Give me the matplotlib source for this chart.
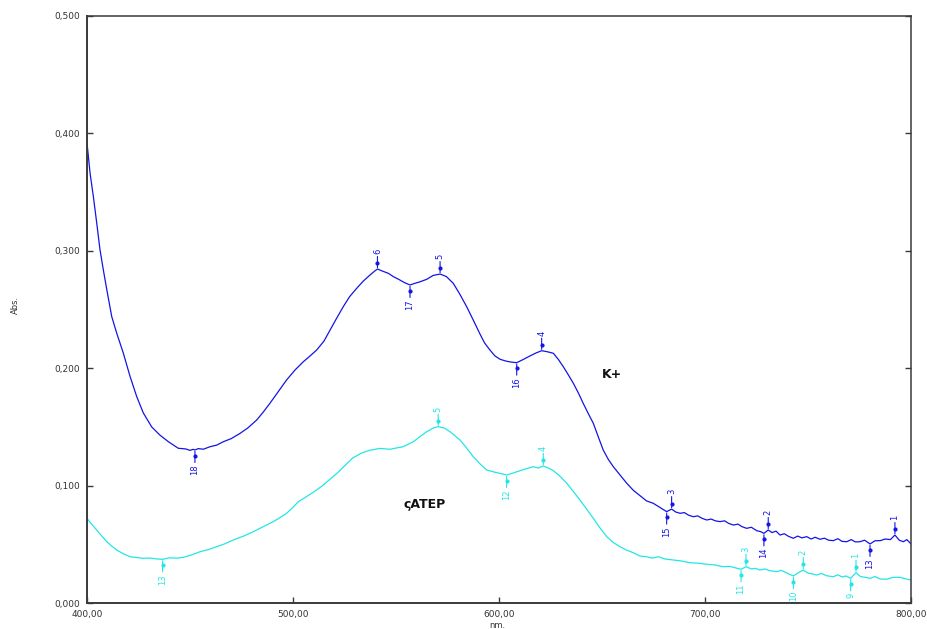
import matplotlib
matplotlib.use("Agg")
import matplotlib.pyplot as plt
from matplotlib.ticker import FuncFormatter, MultipleLocator
from matplotlib.transforms import offset_copy

# --- K+ spectrum (wavelength nm, absorbance) ---
kplus_nm = [400.0, 401.5, 403.1, 404.7, 406.3, 407.9, 409.6, 412.0, 414.4, 417.6,
            420.9, 424.1, 427.3, 431.4, 435.4, 439.5, 444.3, 448.0, 450.0, 451.6,
            452.4, 454.0, 456.5, 459.7, 463.0, 466.2, 470.0, 474.3, 478.0, 482.4,
            485.5, 488.8, 492.8, 496.9, 501.0, 505.0, 508.0, 511.5, 515.0, 518.0,
            521.0, 524.4, 527.5, 530.9, 534.0, 537.4, 539.5, 541.0, 543.0, 546.3,
            548.7, 551.5, 554.0, 556.8, 559.0, 561.5, 564.9, 568.0, 571.4, 574.5,
            577.8, 581.0, 584.3, 587.5, 590.8, 593.0, 595.6, 598.0, 600.5, 603.5,
            606.0, 608.6, 611.5, 615.0, 618.0, 620.7, 623.5, 626.4, 628.8, 631.2,
            633.6, 636.1, 638.5, 640.9, 643.3, 645.8, 648.2, 650.6, 653.0, 655.5,
            658.8, 662.0, 665.2, 668.4, 671.6, 674.9, 678.0, 681.4, 683.8, 685.8,
            687.9, 690.0, 692.0, 694.3, 696.5, 698.5, 700.8, 703.0, 705.0, 707.3,
            709.5, 711.5, 713.8, 716.0, 718.0, 720.2, 722.5, 725.1, 727.0, 728.6,
            730.7, 732.5, 734.5, 736.4, 738.5, 740.5, 742.9, 745.0, 747.0, 749.4,
            751.5, 753.5, 755.8, 758.0, 760.0, 762.3, 764.5, 766.5, 768.8, 771.0,
            773.0, 775.2, 777.5, 780.1, 782.5, 785.0, 787.5, 790.0, 792.2, 794.3,
            796.3, 798.0, 800.0]
kplus_abs = [0.392, 0.366, 0.346, 0.324, 0.301, 0.284, 0.267, 0.244, 0.230, 0.213,
             0.193, 0.176, 0.162, 0.150, 0.143, 0.1374, 0.1318, 0.1312, 0.1300, 0.1309,
             0.1303, 0.1315, 0.1310, 0.1331, 0.1345, 0.1374, 0.1400, 0.1445, 0.1490, 0.1559,
             0.1625, 0.1701, 0.1800, 0.1900, 0.1985, 0.2055, 0.2100, 0.2155, 0.2230, 0.2325,
             0.2420, 0.2524, 0.2610, 0.2680, 0.2740, 0.2794, 0.2825, 0.2845, 0.2830, 0.2808,
             0.2780, 0.2755, 0.2730, 0.2709, 0.2722, 0.2735, 0.2757, 0.2790, 0.2802, 0.2780,
             0.2723, 0.2630, 0.2524, 0.2410, 0.2290, 0.2215, 0.2155, 0.2105, 0.2076, 0.2060,
             0.2052, 0.2047, 0.2072, 0.2104, 0.2130, 0.2149, 0.2140, 0.2127, 0.2075, 0.2013,
             0.1945, 0.1871, 0.1790, 0.1700, 0.1615, 0.1530, 0.1415, 0.1303, 0.1225, 0.1161,
             0.1090, 0.1020, 0.0960, 0.0915, 0.0870, 0.0849, 0.0815, 0.0778, 0.0800, 0.0775,
             0.0764, 0.0770, 0.0748, 0.0735, 0.0742, 0.0722, 0.0707, 0.0715, 0.0700, 0.0693,
             0.0700, 0.0678, 0.0664, 0.0672, 0.0650, 0.0636, 0.0645, 0.0616, 0.0608, 0.0593,
             0.0622, 0.0600, 0.0612, 0.0579, 0.0590, 0.0568, 0.0551, 0.0570, 0.0555, 0.0565,
             0.0545, 0.0560, 0.0543, 0.0552, 0.0535, 0.0531, 0.0548, 0.0525, 0.0522, 0.0540,
             0.0520, 0.0522, 0.0535, 0.0503, 0.0530, 0.0531, 0.0545, 0.0540, 0.0579, 0.0535,
             0.0522, 0.0540, 0.0503]

# --- ςATEP spectrum ---
catep_nm = [400.0, 402.3, 404.7, 407.2, 409.6, 412.0, 414.4, 417.6, 420.9, 424.0,
            427.3, 430.5, 433.5, 436.7, 440.0, 443.5, 446.8, 450.8, 454.9, 459.0,
            463.0, 467.0, 471.0, 476.0, 480.7, 485.5, 490.4, 493.5, 496.9, 500.0,
            502.6, 506.0, 510.0, 514.0, 518.0, 522.0, 526.0, 529.0, 533.0, 537.0,
            542.2, 547.1, 550.0, 553.5, 558.4, 561.5, 564.9, 568.0, 570.5, 573.5,
            576.2, 581.1, 584.3, 587.5, 590.8, 594.0, 598.9, 601.5, 603.7, 606.5,
            610.2, 613.5, 616.7, 619.0, 621.5, 624.0, 626.4, 629.6, 632.9, 636.1,
            639.3, 642.5, 645.8, 649.0, 652.3, 655.5, 658.7, 662.0, 665.2, 668.4,
            671.7, 674.5, 677.4, 680.5, 684.6, 688.5, 692.7, 696.5, 700.8, 704.5,
            708.9, 712.0, 715.0, 717.5, 719.9, 722.5, 724.5, 726.7, 729.0, 731.5,
            734.8, 737.0, 739.5, 741.0, 742.9, 745.5, 747.7, 750.0, 752.0, 754.2,
            756.5, 759.0, 762.3, 764.5, 766.5, 768.5, 770.7, 773.3, 775.5, 778.0,
            780.1, 782.5, 785.0, 788.2, 791.0, 794.7, 797.5, 800.0]
catep_abs = [0.0721, 0.0670, 0.0622, 0.0570, 0.0522, 0.0485, 0.0451, 0.0420, 0.0394, 0.0388,
             0.0380, 0.0383, 0.0376, 0.0372, 0.0385, 0.0382, 0.0389, 0.0410, 0.0437, 0.0455,
             0.0480, 0.0505, 0.0537, 0.0570, 0.0607, 0.0650, 0.0693, 0.0725, 0.0764, 0.0815,
             0.0863, 0.0900, 0.0945, 0.0995, 0.1055, 0.1115, 0.1185, 0.1235, 0.1275, 0.1300,
             0.1317, 0.1309, 0.1320, 0.1331, 0.1374, 0.1415, 0.1459, 0.1490, 0.1502, 0.1490,
             0.1459, 0.1388, 0.1320, 0.1246, 0.1185, 0.1133, 0.1110, 0.1100, 0.1090, 0.1105,
             0.1127, 0.1145, 0.1161, 0.1150, 0.1167, 0.1150, 0.1127, 0.1080, 0.1020, 0.0950,
             0.0877, 0.0800, 0.0721, 0.0640, 0.0565, 0.0515, 0.0480, 0.0450, 0.0428, 0.0400,
             0.0394, 0.0382, 0.0394, 0.0375, 0.0366, 0.0358, 0.0343, 0.0340, 0.0330, 0.0325,
             0.0309, 0.0312, 0.0298, 0.0287, 0.0309, 0.0290, 0.0295, 0.0281, 0.0290, 0.0275,
             0.0267, 0.0278, 0.0258, 0.0245, 0.0230, 0.0260, 0.0281, 0.0255, 0.0248, 0.0238,
             0.0252, 0.0232, 0.0224, 0.0240, 0.0222, 0.0230, 0.0210, 0.0258, 0.0225, 0.0218,
             0.0210, 0.0225, 0.0205, 0.0202, 0.0218, 0.0219, 0.0205, 0.0196]

# --- picked peaks (maxima) and valleys (minima) ---
kplus_max_nm = [792.2, 730.7, 683.8, 620.7, 571.4, 541.0]
kplus_max_abs = [0.0579, 0.0622, 0.0800, 0.2149, 0.2802, 0.2845]
kplus_max_ids = ["1", "2", "3", "4", "5", "6"]
kplus_min_nm = [780.1, 728.6, 681.4, 608.6, 556.8, 452.4]
kplus_min_abs = [0.0503, 0.0593, 0.0778, 0.2047, 0.2709, 0.1303]
kplus_min_ids = ["13", "14", "15", "16", "17", "18"]

catep_max_nm = [773.3, 747.7, 719.9, 621.5, 570.5]
catep_max_abs = [0.0258, 0.0281, 0.0309, 0.1167, 0.1502]
catep_max_ids = ["1", "2", "3", "4", "5"]
catep_min_nm = [770.7, 742.9, 717.5, 603.7, 436.7]
catep_min_abs = [0.0210, 0.0230, 0.0287, 0.1090, 0.0372]
catep_min_ids = ["9", "10", "11", "12", "13"]

BLUE = "#1414e6"
CYAN = "#22e6e6"
AXIS = "#3a3a3a"

fig = plt.figure(figsize=(9.27, 6.29), dpi=100)
ax = fig.add_axes([87 / 927, 1 - 603 / 629, (911 - 87) / 927, (603 - 16) / 629])

ax.plot(kplus_nm, kplus_abs, color=BLUE, lw=0.9)
ax.plot(catep_nm, catep_abs, color=CYAN, lw=0.9)


def mark(xs, ys, ids, color, above):
    """Peak-pick marker: short stem with a dot and a rotated index label."""
    s = 1 if above else -1
    for x, y, lab in zip(xs, ys, ids):
        ax.annotate("", xy=(x, y), xytext=(0, s * 9.0), textcoords="offset points",
                    arrowprops=dict(arrowstyle="-", color=color, lw=0.8,
                                    shrinkA=0, shrinkB=1))
        ax.plot([x], [y], marker="o", ms=2.0, color=color, mec=color,
                transform=offset_copy(ax.transData, fig=fig, x=0, y=s * 4.0,
                                      units="points"),
                clip_on=False)
        ax.annotate(lab, xy=(x, y), xytext=(0, s * 10.5), textcoords="offset points",
                    rotation=90, ha="center", va="bottom" if above else "top",
                    fontsize=6, color=color)


mark(kplus_max_nm, kplus_max_abs, kplus_max_ids, BLUE, True)
mark(kplus_min_nm, kplus_min_abs, kplus_min_ids, BLUE, False)
mark(catep_max_nm, catep_max_abs, catep_max_ids, CYAN, True)
mark(catep_min_nm, catep_min_abs, catep_min_ids, CYAN, False)

ax.text(654.9, 0.195, "K+", fontsize=9, fontweight="bold", color="#111111",
        ha="center", va="center")
ax.text(564.0, 0.0835, "ςATEP", fontsize=9, fontweight="bold", color="#111111",
        ha="center", va="center")

ax.set_xlim(400, 800)
ax.set_ylim(0, 0.5)
ax.xaxis.set_major_locator(MultipleLocator(100))
ax.yaxis.set_major_locator(MultipleLocator(0.1))
ax.xaxis.set_major_formatter(FuncFormatter(lambda v, p: f"{v:.2f}".replace(".", ",")))
ax.yaxis.set_major_formatter(FuncFormatter(lambda v, p: f"{v:.3f}".replace(".", ",")))
ax.tick_params(axis="both", direction="in", length=4, width=1.0, color=AXIS,
               labelsize=6.5, labelcolor="#333333")
ax.tick_params(axis="y", right=True, pad=5)
ax.tick_params(axis="x", pad=5)
for sp in ax.spines.values():
    sp.set_color(AXIS)
    sp.set_linewidth(1.1)
ax.spines["left"].set_linewidth(1.4)
ax.spines["bottom"].set_linewidth(1.4)

fig.text(15 / 927, 1 - 305 / 629, "Abs.", rotation=90, fontsize=6, color="#333333",
         ha="center", va="center")
fig.text(497 / 927, 1 - 625 / 629, "nm.", fontsize=6, color="#333333",
         ha="center", va="center")

fig.savefig("out.png", dpi=100)
